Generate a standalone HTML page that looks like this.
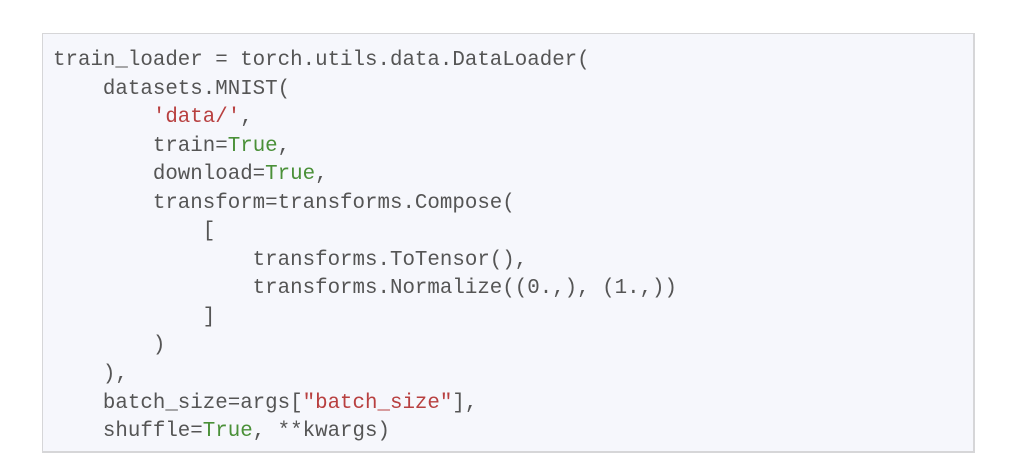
<!DOCTYPE html>
<html><head><style>
html,body{margin:0;padding:0;background:#fff;width:1024px;height:476px;overflow:hidden}
.box{position:absolute;left:42px;top:33px;width:930px;height:417px;background:#f6f7fc;border:1px solid #d6d6d8;border-right-width:2px;border-bottom-width:2px}
pre{position:absolute;left:53px;top:47px;margin:0;font-family:"Liberation Mono",monospace;font-size:20.8px;line-height:28.55px;color:#555}
.s{color:#b84040}.k{color:#4a9038}
</style></head><body>
<div class="box"></div>
<pre>train_loader = torch.utils.data.DataLoader(
    datasets.MNIST(
        <span class="s">'data/'</span>,
        train=<span class="k">True</span>,
        download=<span class="k">True</span>,
        transform=transforms.Compose(
            [
                transforms.ToTensor(),
                transforms.Normalize((0.,), (1.,))
            ]
        )
    ),
    batch_size=args[<span class="s">"batch_size"</span>],
    shuffle=<span class="k">True</span>, **kwargs)</pre>
</body></html>
